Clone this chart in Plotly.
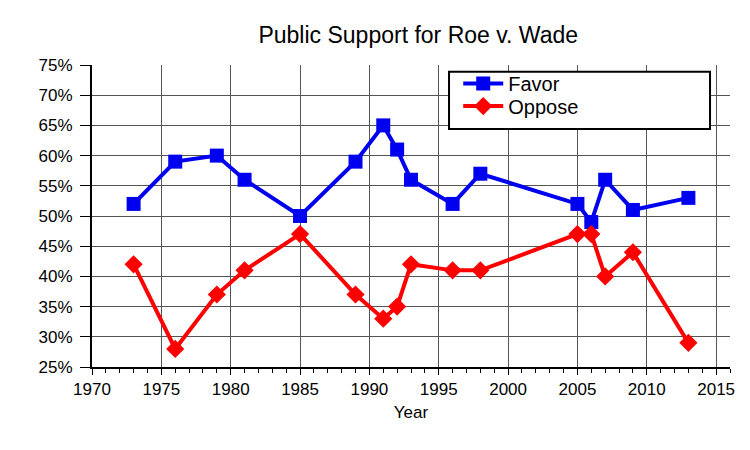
import plotly.graph_objects as go

# poll years and values (percent)
years = [1973, 1976, 1979, 1981, 1985, 1989, 1991, 1992, 1993, 1996, 1998, 2005, 2006, 2007, 2009, 2013]
favor = [52, 59, 60, 56, 50, 59, 65, 61, 56, 52, 57, 52, 49, 56, 51, 53]
oppose = [42, 28, 37, 41, 47, 37, 33, 35, 42, 41, 41, 47, 47, 40, 44, 29]

y_ticks = list(range(25, 80, 5))
y_labels = [f"{v}%" for v in y_ticks]
x_ticks = list(range(1970, 2020, 5))

fig = go.Figure()
fig.add_trace(go.Scatter(x=years, y=favor, name="Favor", mode="lines+markers",
                         line=dict(color="#0000f0", width=4),
                         marker=dict(symbol="square", size=14, color="#0000f0"),
                         legend="legend"))
fig.add_trace(go.Scatter(x=years, y=oppose, name="Oppose", mode="lines+markers",
                         line=dict(color="#ff0000", width=4),
                         marker=dict(symbol="diamond", size=14, color="#ff0000"),
                         legend="legend2"))

# legend frame (wider than plotly's own legend box)
fig.add_shape(type="rect", xref="paper", yref="paper",
              x0=0.5596, x1=0.9687, y0=0.788, y1=0.978,
              fillcolor="white", line=dict(color="black", width=2), layer="above")

leg = dict(x=0.574, xanchor="left", yanchor="middle",
           bgcolor="rgba(0,0,0,0)", borderwidth=0,
           font=dict(size=20), itemwidth=40)

fig.update_layout(
    width=750, height=450,
    margin=dict(l=84, r=28, t=57, b=91),
    paper_bgcolor="white", plot_bgcolor="white",
    font=dict(family="Liberation Sans, Arial, sans-serif", size=16, color="black"),
    title=dict(text="Public Support for Roe v. Wade", x=0.547, xanchor="center",
               y=0.94, yanchor="middle", font=dict(size=23)),
    xaxis=dict(range=[1970, 2016], tickmode="array", tickvals=x_ticks,
               showgrid=True, gridcolor="#555555", gridwidth=1,
               showline=True, linecolor="black", linewidth=2,
               ticks="outside", ticklen=6, tickcolor="black", tickwidth=1,
               minor=dict(dtick=1, ticks="outside", ticklen=4, tickcolor="black", showgrid=False),
               tickfont=dict(size=17), zeroline=False,
               title=dict(text="Year", standoff=8, font=dict(size=17))),
    yaxis=dict(range=[25, 75], tickmode="array", tickvals=y_ticks, ticktext=y_labels,
               showgrid=True, gridcolor="#555555", gridwidth=1,
               showline=True, linecolor="black", linewidth=2,
               ticks="outside", ticklen=10, tickcolor="black", tickwidth=1,
               ticklabelstandoff=4,
               tickfont=dict(size=17), zeroline=False),
    legend=dict(leg, y=0.939),
    legend2=dict(leg, y=0.864),
    showlegend=True,
)

fig.write_html("out.html")
